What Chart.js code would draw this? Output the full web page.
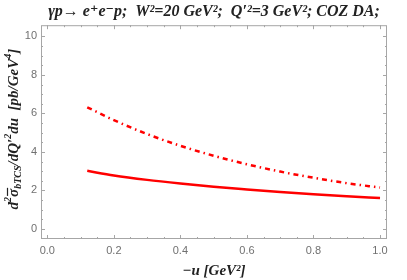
<!DOCTYPE html>
<html>
<head>
<meta charset="utf-8">
<script src="https://cdn.jsdelivr.net/npm/chart.js@4.4.1/dist/chart.umd.min.js"></script>
<style>
  html, body { margin: 0; padding: 0; background: #fff; }
  #wrap { width: 407px; height: 280px; }
</style>
</head>
<body>
<div id="wrap"><canvas id="uChart" width="407" height="280"></canvas></div>
<script>
const uValues = [0.12, 0.2, 0.3, 0.4, 0.5, 0.6, 0.7, 0.8, 0.9, 1.0];
const solidValues = [3.02, 2.78, 2.55, 2.36, 2.19, 2.05, 1.92, 1.8, 1.7, 1.61];
const dashDotValues = [6.32, 5.65, 4.93, 4.32, 3.8, 3.36, 2.98, 2.66, 2.38, 2.15];
const xTicks = [0, 0.2, 0.4, 0.6, 0.8, 1.0];
const yTicks = [0, 2, 4, 6, 8, 10];
const titleText = "γp→ e⁺e⁻p;  W²=20 GeV²;  Q′²=3 GeV²; COZ DA;";
const xTitle = "−u [GeV²]";

const serif = "'Liberation Serif', 'DejaVu Serif', serif";
const frameColor = "#a6a6a6";

// inward ticks on all four sides, like the original frame
const frameTicks = {
  id: "frameTicks",
  afterDraw(chart) {
    const ctx = chart.ctx;
    const a = chart.chartArea;
    const xs = chart.scales.x;
    const ys = chart.scales.y;
    ctx.save();
    ctx.strokeStyle = frameColor;
    ctx.lineWidth = 1;
    ctx.beginPath();
    for (let i = 0; i <= 20; i++) {
      const v = i * 0.05;
      const len = i % 4 === 0 ? 4 : 2;
      const px = Math.round(xs.getPixelForValue(v)) + 0.5;
      ctx.moveTo(px, a.bottom); ctx.lineTo(px, a.bottom - len);
      ctx.moveTo(px, a.top); ctx.lineTo(px, a.top + len);
    }
    for (let i = 0; i <= 20; i++) {
      const v = i * 0.5;
      const len = i % 4 === 0 ? 4 : 2;
      const py = Math.round(ys.getPixelForValue(v)) + 0.5;
      ctx.moveTo(a.left, py); ctx.lineTo(a.left + len, py);
      ctx.moveTo(a.right, py); ctx.lineTo(a.right - len, py);
    }
    ctx.stroke();
    ctx.strokeRect(a.left + 0.5, a.top + 0.5, a.right - a.left - 1, a.bottom - a.top - 1);
    ctx.restore();
  },
};

// y axis label with sub/superscripts
const yLabel = {
  id: "yLabel",
  afterDraw(chart) {
    const ctx = chart.ctx;
    const a = chart.chartArea;
    const big = 15, small = 10;
    const parts = [
      { t: "d", s: big, dy: 0 },
      { t: "2", s: small, dy: -6 },
      { t: "σ", s: big, dy: 0, bar: true },
      { t: "bTCS", s: small, dy: 4 },
      { t: "/dQ′", s: big, dy: 0 },
      { t: "2", s: small, dy: -6 },
      { t: "du  [pb/GeV", s: big, dy: 0 },
      { t: "4", s: small, dy: -6 },
      { t: "]", s: big, dy: 0 },
    ];
    ctx.save();
    ctx.fillStyle = "#222";
    ctx.strokeStyle = "#222";
    ctx.textBaseline = "middle";
    ctx.textAlign = "left";
    let total = 0;
    parts.forEach((p) => {
      ctx.font = `italic bold ${p.s}px ${serif}`;
      p.w = ctx.measureText(p.t).width;
      total += p.w;
    });
    ctx.translate(14, (a.top + a.bottom) / 2 - 3);
    ctx.rotate(-Math.PI / 2);
    let x = -total / 2;
    parts.forEach((p) => {
      ctx.font = `italic bold ${p.s}px ${serif}`;
      ctx.fillText(p.t, x, p.dy);
      if (p.bar) {
        ctx.lineWidth = 1.2;
        ctx.beginPath();
        ctx.moveTo(x + 1, -6.5);
        ctx.lineTo(x + p.w + 1, -6.5);
        ctx.stroke();
      }
      x += p.w;
    });
    ctx.restore();
  },
};

new Chart(document.getElementById("uChart"), {
  type: "line",
  data: {
    datasets: [
      {
        label: "solid",
        data: uValues.map((u, i) => ({ x: u, y: solidValues[i] })),
        borderColor: "#ff0000",
        borderWidth: 2.5,
        pointRadius: 0,
        cubicInterpolationMode: "monotone",
      },
      {
        label: "dash-dot",
        data: uValues.map((u, i) => ({ x: u, y: dashDotValues[i] })),
        borderColor: "#ff0000",
        borderWidth: 2.5,
        borderDash: [5, 4, 1.5, 4],
        pointRadius: 0,
        cubicInterpolationMode: "monotone",
      },
    ],
  },
  options: {
    responsive: false,
    animation: false,
    layout: { padding: { top: 0, right: 20, bottom: 0, left: 0 } },
    plugins: {
      legend: { display: false },
      tooltip: { enabled: false },
      title: {
        display: true,
        text: titleText,
        fullSize: false,
        color: "#222",
        font: { family: serif, size: 16, style: "italic", weight: "bold" },
        padding: { top: 2, bottom: 4 },
      },
    },
    scales: {
      x: {
        type: "linear",
        min: -0.019,
        max: 1.021,
        afterBuildTicks: (s) => { s.ticks = xTicks.map((v) => ({ value: v })); },
        afterFit: (s) => { s.height = 41; },
        grid: { display: false, drawTicks: false },
        border: { display: false },
        ticks: {
          color: "#707070",
          font: { family: "'Liberation Sans', sans-serif", size: 11 },
          padding: 5,
          maxRotation: 0,
          callback: (v) => v.toFixed(1),
        },
        title: {
          display: true,
          text: xTitle,
          color: "#222",
          font: { family: serif, size: 15, style: "italic", weight: "bold" },
          padding: { top: 1, bottom: 0 },
        },
      },
      y: {
        type: "linear",
        min: -0.52,
        max: 10.58,
        afterBuildTicks: (s) => { s.ticks = yTicks.map((v) => ({ value: v })); },
        afterFit: (s) => { s.width = 41; },
        grid: { display: false, drawTicks: false },
        border: { display: false },
        ticks: {
          color: "#707070",
          font: { family: "'Liberation Sans', sans-serif", size: 11 },
          padding: 4,
        },
      },
    },
  },
  plugins: [frameTicks, yLabel],
});
</script>
</body>
</html>
